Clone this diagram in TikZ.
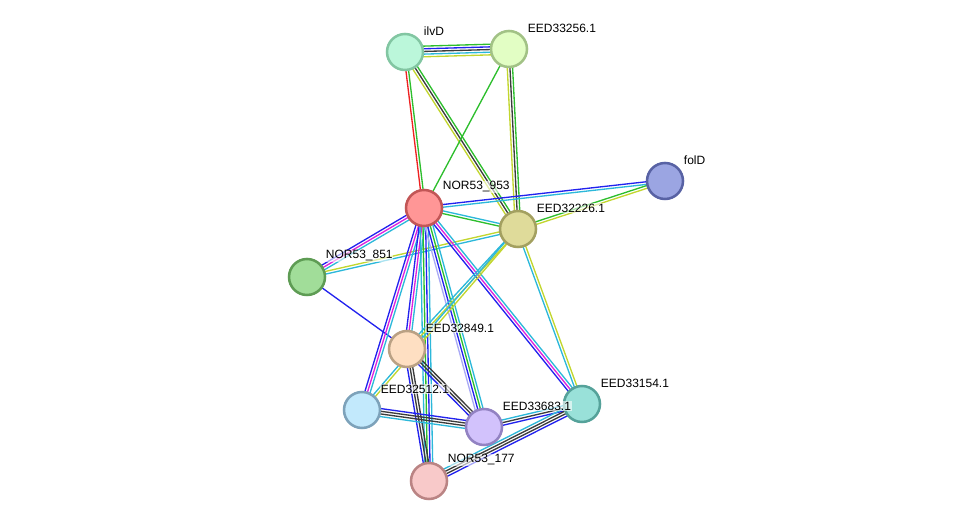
\documentclass[tikz,border=0pt]{standalone}
\usepackage{fontspec}
\setmainfont{Liberation Sans}
\usetikzlibrary{calc}

\pgfdeclarelayer{background}
\pgfsetlayers{background,main}

% evidence colours
\definecolor{nbhood}{HTML}{2DBE2D}
\definecolor{fusion}{HTML}{EE2222}
\definecolor{cooccur}{HTML}{2222EE}
\definecolor{coexpr}{HTML}{3C3C3C}
\definecolor{exper}{HTML}{DD22DD}
\definecolor{dbase}{HTML}{2CB8DA}
\definecolor{txtmine}{HTML}{C2D62E}
\definecolor{homol}{HTML}{AAAAF5}

% protein colours (fill, rim)
\definecolor{ilvdF}{HTML}{BBF7DA}\definecolor{ilvdR}{HTML}{82C6A2}
\definecolor{e256F}{HTML}{E2FEC4}\definecolor{e256R}{HTML}{A2C286}
\definecolor{n953F}{HTML}{FF9696}\definecolor{n953R}{HTML}{C25656}
\definecolor{foldF}{HTML}{9BA5E2}\definecolor{foldR}{HTML}{5862A4}
\definecolor{e226F}{HTML}{DFDB9A}\definecolor{e226R}{HTML}{A3A060}
\definecolor{n851F}{HTML}{A1DD99}\definecolor{n851R}{HTML}{5E9C54}
\definecolor{e849F}{HTML}{FEDFC2}\definecolor{e849R}{HTML}{BAA184}
\definecolor{e512F}{HTML}{C2E9FC}\definecolor{e512R}{HTML}{7DA2BA}
\definecolor{e683F}{HTML}{D2C2FC}\definecolor{e683R}{HTML}{9282C2}
\definecolor{e154F}{HTML}{99E1D9}\definecolor{e154R}{HTML}{55A29A}
\definecolor{n177F}{HTML}{F8C9C9}\definecolor{n177R}{HTML}{BA8484}

\tikzset{
    prot/.style={circle, draw, line width=1.9pt, minimum size=27pt, inner sep=0pt},
    tag/.style={anchor=west, font=\fontsize{9}{10}\selectfont, inner sep=0.5pt,
        fill=white, fill opacity=0.6, text opacity=1},
    lane/.style={line width=1pt, to path={($(\tikztostart)!#1*2pt!90:(\tikztotarget)$)
        -- ($(\tikztotarget)!#1*2pt!-90:(\tikztostart)$)}},
}

\begin{document}
\begin{tikzpicture}[x=0.75pt, y=-0.75pt]
        \useasboundingbox (0,0) rectangle (976,527);

        % proteins
        \node[prot, fill=ilvdF, draw=ilvdR] (ilvd) at (405,52) {};
        \node[prot, fill=e256F, draw=e256R] (e256) at (509,49) {};
        \node[prot, fill=n953F, draw=n953R] (n953) at (424,208) {};
        \node[prot, fill=foldF, draw=foldR] (fold) at (665,181) {};
        \node[prot, fill=e226F, draw=e226R] (e226) at (518,229) {};
        \node[prot, fill=n851F, draw=n851R] (n851) at (307,277) {};
        \node[prot, fill=e849F, draw=e849R] (e849) at (407,349) {};
        \node[prot, fill=e512F, draw=e512R] (e512) at (362,410) {};
        \node[prot, fill=e683F, draw=e683R] (e683) at (484,427) {};
        \node[prot, fill=e154F, draw=e154R] (e154) at (582,404) {};
        \node[prot, fill=n177F, draw=n177R] (n177) at (429,481) {};

        % names
        \node[tag] (tilvd) at ($(ilvd)+(18,-21)$) {ilvD};
        \node[tag] (t256) at ($(e256)+(18,-21)$) {EED33256.1};
        \node[tag] (t953) at ($(n953)+(18,-21)$) {NOR53\_953};
        \node[tag] (tfold) at ($(fold)+(18,-21)$) {folD};
        \node[tag] (t226) at ($(e226)+(18,-21)$) {EED32226.1};
        \node[tag] (t851) at ($(n851)+(18,-21)$) {NOR53\_851};
        \node[tag] (t849) at ($(e849)+(18,-21)$) {EED32849.1};
        \node[tag] (t512) at ($(e512)+(18,-21)$) {EED32512.1};
        \node[tag] (t683) at ($(e683)+(18,-21)$) {EED33683.1};
        \node[tag] (t154) at ($(e154)+(18,-21)$) {EED33154.1};
        \node[tag] (t177) at ($(n177)+(18,-21)$) {NOR53\_177};

        % evidence lines
        \begin{pgfonlayer}{background}
            \path (ilvd) edge[lane=2, nbhood] (e256) edge[lane=1, cooccur] (e256)
                edge[lane=0, coexpr] (e256) edge[lane=-1, dbase] (e256) edge[lane=-2, txtmine] (e256);
            \path (ilvd) edge[lane=0.5, nbhood] (n953) edge[lane=-0.5, fusion] (n953);
            \path (ilvd) edge[lane=1, nbhood] (e226) edge[lane=0, coexpr] (e226) edge[lane=-1, txtmine] (e226);
            \path (e256) edge[lane=0, nbhood] (n953);
            \path (e256) edge[lane=1, nbhood] (e226) edge[lane=0, coexpr] (e226) edge[lane=-1, txtmine] (e226);

            \path (n953) edge[lane=0.5, cooccur] (fold) edge[lane=-0.5, dbase] (fold);
            \path (e226) edge[lane=0.5, nbhood] (fold) edge[lane=-0.5, txtmine] (fold);
            \path (n953) edge[lane=0.5, dbase] (e226) edge[lane=-0.5, nbhood] (e226);
            \path (n953) edge[lane=-1, cooccur] (n851) edge[lane=0, exper] (n851) edge[lane=1, dbase] (n851);
            \path (e226) edge[lane=0.5, dbase] (n851) edge[lane=-0.5, txtmine] (n851);
            \path (n851) edge[lane=0, cooccur] (e849);

            \path (n953) edge[lane=-1, cooccur] (e512) edge[lane=0, exper] (e512) edge[lane=1, dbase] (e512);
            \path (n953) edge[lane=-1, cooccur] (e849) edge[lane=0, exper] (e849) edge[lane=1, dbase] (e849);
            \path (n953) edge[lane=-1.5, dbase] (n177) edge[lane=-0.5, nbhood] (n177)
                edge[lane=0.5, cooccur] (n177) edge[lane=1.5, dbase] (n177);
            \path (n953) edge[lane=-1.5, homol] (e683) edge[lane=-0.5, cooccur] (e683)
                edge[lane=0.5, nbhood] (e683) edge[lane=1.5, dbase] (e683);
            \path (n953) edge[lane=1, dbase] (e154) edge[lane=0, exper] (e154) edge[lane=-1, cooccur] (e154);

            \path (e226) edge[lane=-0.5, dbase] (e154) edge[lane=0.5, txtmine] (e154);
            \path (e226) edge[lane=-0.5, dbase] (e849) edge[lane=0.5, txtmine] (e849);
            \path (e226) edge[lane=-0.5, dbase] (e512) edge[lane=0.5, txtmine] (e512);

            \path (e849) edge[lane=-1, cooccur] (n177) edge[lane=0, coexpr] (n177) edge[lane=1, coexpr] (n177);
            \path (e849) edge[lane=-1, cooccur] (e683) edge[lane=0, coexpr] (e683) edge[lane=1, coexpr] (e683);
            \path (e512) edge[lane=1.5, cooccur] (e683) edge[lane=0.5, coexpr] (e683)
                edge[lane=-0.5, coexpr] (e683) edge[lane=-1.5, dbase] (e683);
            \path (e683) edge[lane=1, dbase] (e154) edge[lane=0, coexpr] (e154) edge[lane=-1, cooccur] (e154);
            \path (n177) edge[lane=1.5, dbase] (e154) edge[lane=0.5, coexpr] (e154)
                edge[lane=-0.5, coexpr] (e154) edge[lane=-1.5, cooccur] (e154);
        \end{pgfonlayer}
\end{tikzpicture}
\end{document}
